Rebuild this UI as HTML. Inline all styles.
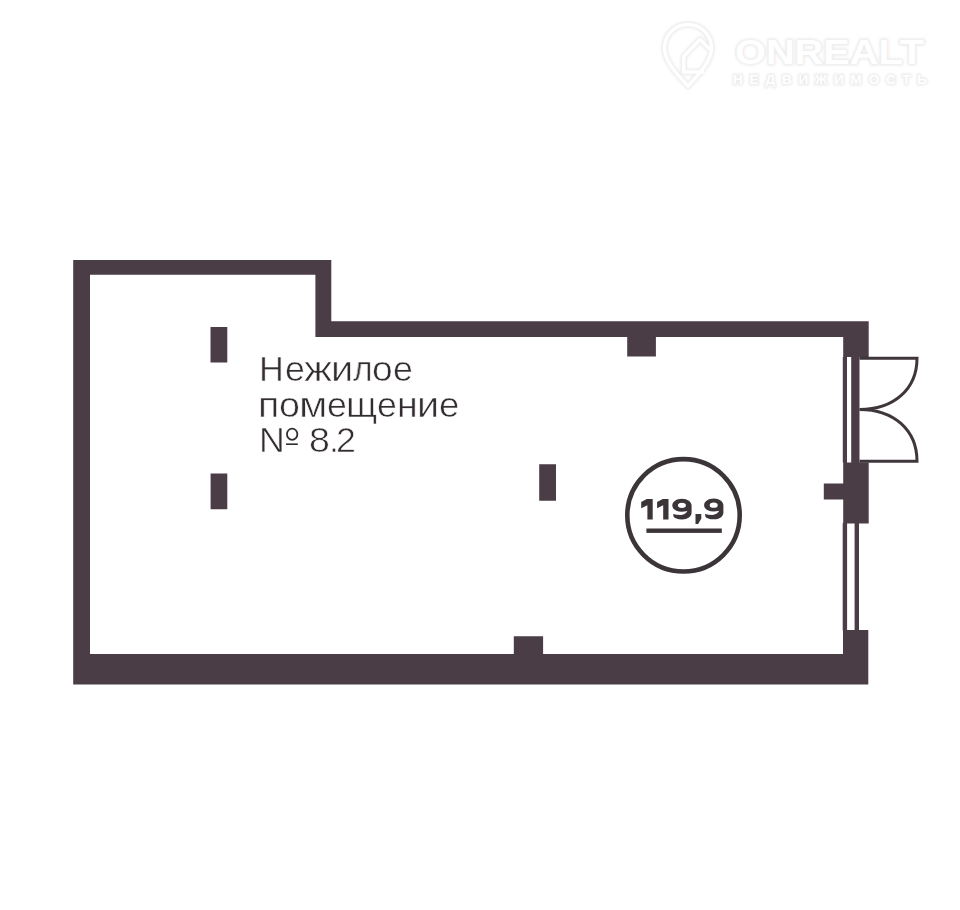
<!DOCTYPE html>
<html>
<head>
<meta charset="utf-8">
<style>
html,body{margin:0;padding:0;background:#ffffff;}
body{width:960px;height:910px;overflow:hidden;position:relative;font-family:"Liberation Sans",sans-serif;}
svg{position:absolute;left:0;top:0;}
.ln{position:absolute;left:260px;font-size:35.8px;line-height:40px;color:#332d32;white-space:nowrap;transform-origin:0 0;-webkit-text-stroke:0.6px #fff;will-change:transform;}
.g{position:absolute;font-size:30.3px;font-weight:bold;color:#3b3537;white-space:nowrap;line-height:36.36px;transform-origin:0 0;will-change:transform;}
</style>
</head>
<body>
<svg width="960" height="910" viewBox="0 0 960 910">
  <!-- watermark -->
  <defs><filter id="bl" x="-20%" y="-20%" width="140%" height="140%"><feGaussianBlur stdDeviation="1.2"/></filter></defs>
  <g filter="url(#bl)">
    <g fill="none" stroke="#ececec" stroke-width="6.5" stroke-linejoin="round">
      <path d="M688 86 C681 78 664.5 63 664.5 48 A23.5 23.5 0 1 1 711.5 48 C711.5 63 695 78 688 86 Z"/>
      <path d="M683.7 73 V56.5 L700 39.5 L710 49.5"/>
      <path d="M683.7 72 H704"/>
    </g>
    <g font-family="Liberation Sans" font-weight="bold" fill="#ececec" stroke="#ececec" stroke-width="3" stroke-linejoin="round">
      <text x="735" y="63.6" font-size="34.9" textLength="189" lengthAdjust="spacingAndGlyphs">ONREALT</text>
      <text x="733" y="84.2" font-size="13.5" textLength="194" lengthAdjust="spacing">НЕДВИЖИМОСТЬ</text>
    </g>
  </g>
  <g fill="none" stroke="#fff" stroke-width="3.5" stroke-linejoin="round">
    <path d="M688 86 C681 78 664.5 63 664.5 48 A23.5 23.5 0 1 1 711.5 48 C711.5 63 695 78 688 86 Z"/>
    <path d="M683.7 73 V56.5 L700 39.5 L710 49.5"/>
    <path d="M683.7 72 H704"/>
  </g>
  <g font-family="Liberation Sans" font-weight="bold" fill="#fff">
    <text x="735" y="63.6" font-size="34.9" textLength="189" lengthAdjust="spacingAndGlyphs">ONREALT</text>
    <text x="733" y="84.2" font-size="13.5" textLength="194" lengthAdjust="spacing">НЕДВИЖИМОСТЬ</text>
  </g>
  <path fill="#4a3d46" d="M73.2 260.1H90V684.6H73.2Z M73.2 260.1H331.3V274.8H73.2Z M315.4 260.1H331.3V337H315.4Z M315.4 321.2H868.7V337H315.4Z M843.2 321.2H868.7V357H843.2Z M842.8 357H847V462.4H842.8Z M851.2 357H859.5V462.4H851.2Z M843.2 462.4H868.7V523.5H843.2Z M823.8 483.6H843.5V499.6H823.8Z M842.7 523H847.1V630.5H842.7Z M854.6 523H859V630.5H854.6Z M843 630H868.3V684.6H843Z M73.2 654H868.3V684.6H73.2Z M513.8 636.3H543.1V654.5H513.8Z M627.2 336.5H655.9V356.5H627.2Z M210.5 326.9H227.3V362.5H210.5Z M210.6 473.5H227.3V509.3H210.6Z M539.2 464.2H556V500.8H539.2Z"/>
  <g fill="none" stroke="#3f363c" stroke-width="3">
    <path d="M859.5 358.2 H917 C917 389 894 409.5 859.5 409.5 C894 409.5 917 430.2 917 461.3 H859.5"/>
  </g>
  <circle cx="683.5" cy="515.35" r="56.2" fill="none" stroke="#3b3438" stroke-width="4.6"/>
  <g fill="#3b3438" fill-rule="evenodd">
    <rect x="646.4" y="528.5" width="75.4" height="4.4"/>
    <path d="M641.2 502 L646.8 499.1 H652.7 V519.5 H647.4 V505.2 L641.2 508.2 Z"/>
    <path d="M657.1 502 L662.7 499.1 H668.5 V519.5 H663.2 V505.2 L657.1 508.2 Z"/>
    <path d="M695.5 514.1 H701.3 V518.4 L698.2 523.9 H695.5 Z"/>
    <path id="nine" d="M672.3 505.4 C672.3 501.6 676.6 498.7 682 498.7 C687.4 498.7 691.6 501.6 691.6 505.6 L691.6 512.6 C691.6 516.8 687.6 519.5 682 519.5 C677.5 519.5 674.5 518.2 673.5 516.6 L673.2 514.1 C675.5 514.7 678 515.1 680.5 515.1 C683.5 515.1 686 513.5 687.4 511 C685.5 511.5 683.5 511.7 681.5 511.7 C676.4 511.7 672.3 509 672.3 505.4 Z M681.9 502.7 A4 2.65 0 1 0 681.9 508 A4 2.65 0 1 0 681.9 502.7 Z"/>
    <use href="#nine" x="31.8" y="-0.2"/>
  </g>
</svg>
<div class="ln" style="left:259.13px;top:348.8px;transform:scaleX(0.959)">Н</div>
<div class="ln" style="left:284.54px;top:348.8px;transform:scaleX(0.975)">е</div>
<div class="ln" style="left:303.55px;top:348.8px;transform:scaleX(1.174)">ж</div>
<div class="ln" style="left:331.40px;top:348.8px;transform:scaleX(1.110)">и</div>
<div class="ln" style="left:352.83px;top:348.8px;transform:scaleX(0.933)">л</div>
<div class="ln" style="left:372.33px;top:348.8px;transform:scaleX(1.037)">о</div>
<div class="ln" style="left:392.91px;top:348.8px;transform:scaleX(0.994)">е</div>
<div class="ln" style="left:258.43px;top:385.0px;transform:scaleX(1.100)">п</div>
<div class="ln" style="left:279.36px;top:385.0px;transform:scaleX(1.052)">о</div>
<div class="ln" style="left:299.14px;top:385.0px;transform:scaleX(1.154)">м</div>
<div class="ln" style="left:326.94px;top:385.0px;transform:scaleX(0.975)">е</div>
<div class="ln" style="left:346.44px;top:385.0px;transform:scaleX(1.058)">щ</div>
<div class="ln" style="left:377.01px;top:385.0px;transform:scaleX(0.994)">е</div>
<div class="ln" style="left:397.17px;top:385.0px;transform:scaleX(1.049)">н</div>
<div class="ln" style="left:417.12px;top:385.0px;transform:scaleX(1.103)">и</div>
<div class="ln" style="left:438.56px;top:385.0px;transform:scaleX(1.025)">е</div>
<div class="ln" style="left:258.8px;top:420.1px">N</div>
<div class="ln" style="left:308.9px;top:420px;transform:scaleX(1.05)">8</div>
<div class="ln" style="left:328.6px;top:420.3px">.</div>
<div class="ln" style="left:336.4px;top:420.3px">2</div>
<svg width="960" height="910" style="position:absolute;left:0;top:0"><ellipse cx="292.15" cy="434.2" rx="5.2" ry="5.6" fill="none" stroke="#332d32" stroke-width="1.8"/><rect x="286" y="443.4" width="11.8" height="1.6" fill="#332d32"/></svg>
</body>
</html>
